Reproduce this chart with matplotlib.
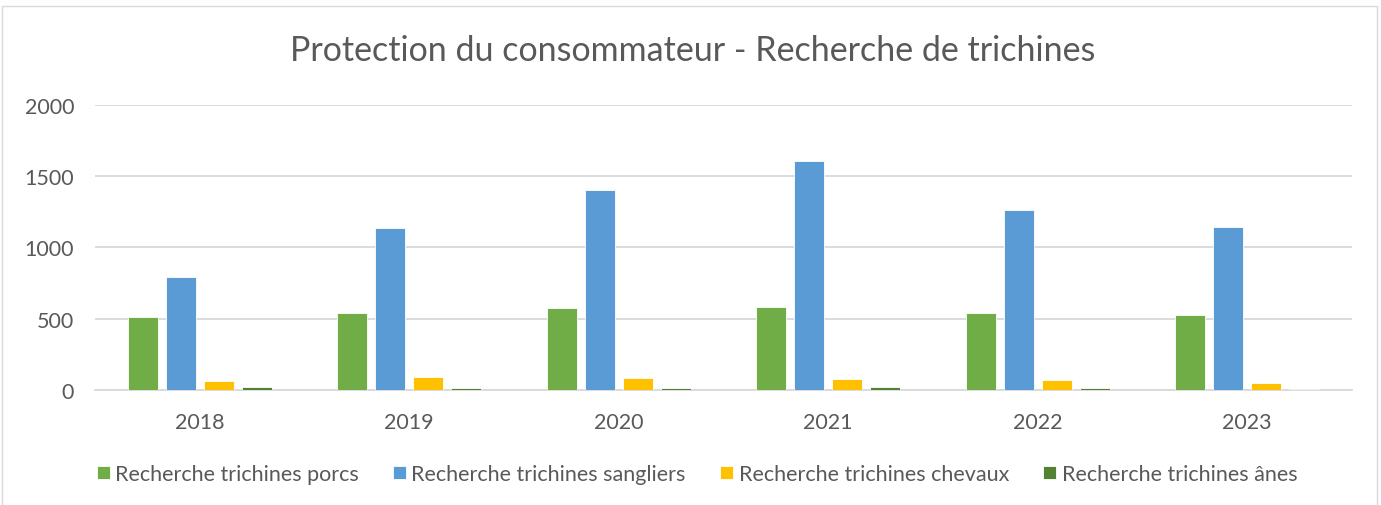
import matplotlib
matplotlib.use("Agg")
import matplotlib.pyplot as plt
import numpy as np
from matplotlib.patches import Rectangle

years = ["2018", "2019", "2020", "2021", "2022", "2023"]
porcs = [511, 539, 572, 579, 537, 527]
sangliers = [790, 1135, 1406, 1610, 1259, 1142]
chevaux = [61, 91, 82, 75, 66, 47]
anes = [19, 10, 10, 19, 12, 8]

series_names = ["Recherche trichines porcs", "Recherche trichines sangliers",
                "Recherche trichines chevaux", "Recherche trichines ânes"]
colors = ["#70AD47", "#5B9BD5", "#FFC000", "#548235"]

plt.rcParams['font.family'] = ['Lato', 'DejaVu Sans']

W, H = 1381, 506
fig = plt.figure(figsize=(W / 100, H / 100), dpi=100)
ax = fig.add_axes([95 / W, 1 - 390.7 / H, (1352 - 95) / W, (390.7 - 106) / H])

x = np.arange(len(years))
step = 0.181
width = 0.143
for i, (vals, c, name) in enumerate(zip([porcs, sangliers, chevaux, anes], colors, series_names)):
    ax.bar(x + (i - 1.5) * step, vals, width=width, color=c, label=name,
           edgecolor="white", linewidth=0.6, zorder=3)

ax.set_xlim(-0.5, len(years) - 0.5)
ax.set_ylim(0, 2000)
ax.set_yticks([0, 500, 1000, 1500, 2000])
ax.set_xticks(x)
ax.set_xticklabels(years)
ax.grid(axis="y", color="#D9D9D9", linewidth=1.3, zorder=0)
for s in ["top", "right", "left"]:
    ax.spines[s].set_visible(False)
ax.spines["bottom"].set_color("#D9D9D9")
ax.spines["bottom"].set_linewidth(1.3)
ax.tick_params(axis="both", length=0, labelsize=15.5, labelcolor="#595959")
ax.tick_params(axis="y", pad=15)
ax.tick_params(axis="x", pad=16)

fig.text(693 / W, 1 - 51 / H, "Protection du consommateur - Recherche de trichines",
         ha="center", va="center", fontsize=24.5, color="#595959")

leg = fig.legend(loc="center", bbox_to_anchor=(697 / W, 1 - 475 / H), ncol=4,
                 frameon=False, fontsize=15.5, handlelength=0.6, handleheight=0.6,
                 handletextpad=0.25, columnspacing=1.6, labelcolor="#595959")

fig.patches.append(Rectangle((2 / W, -0.1), (1377 - 2) / W, 1 - 7 / H + 0.1,
                             transform=fig.transFigure, fill=False,
                             edgecolor="#D9D9D9", linewidth=1.0))

fig.savefig("out.png", dpi=100)
